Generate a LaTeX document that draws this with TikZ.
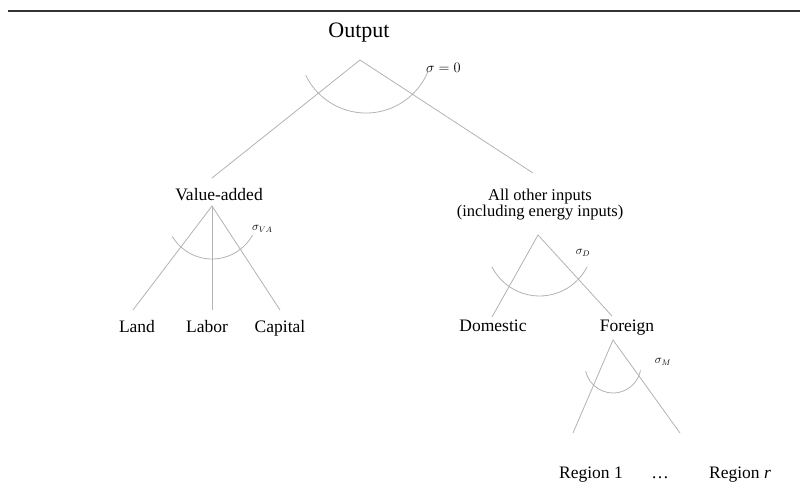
\documentclass[tikz,border=0pt]{standalone}
\usepackage{fontspec}
\setmainfont{Liberation Serif}
\begin{document}
\begin{tikzpicture}[x=1pt,y=-1pt]
\tikzset{
  lbl/.style={font=\fontsize{17.5}{20}\selectfont, inner sep=0pt, anchor=base},
  edge/.style={draw=gray!60, line width=0.8pt},
  elas/.style={draw=gray!60, line width=0.8pt},
  sig/.style={font=\fontsize{12}{14}\selectfont, inner sep=0pt},
  rule/.style={draw=black!80, line width=2.5pt}
}
\useasboundingbox (0,0) rectangle (800,502);
% top rule
\coordinate (r1) at (8,11);
\coordinate (r2) at (800,11);
\draw[rule] (r1) -- (r2);

% labels
\node[lbl, font=\fontsize{22}{24}\selectfont] (out) at (359,38) {Output};
\node[lbl] (va) at (219,201) {Value-added};
\node[lbl, font=\fontsize{16.5}{18}\selectfont] (ao1) at (540,201) {All other inputs};
\node[lbl, font=\fontsize{16.5}{18}\selectfont] (ao2) at (540,217) {(including energy inputs)};
\node[lbl] (land) at (137,333) {Land};
\node[lbl] (labor) at (207,333) {Labor};
\node[lbl] (cap) at (280,333) {Capital};
\node[lbl] (dom) at (493,331) {Domestic};
\node[lbl] (for) at (627,331) {Foreign};
\node[lbl] (reg1) at (591,478) {Region 1};
\node[lbl] (dots) at (660,478) {\dots};
\node[lbl] (regr) at (740,478) {Region \textit{r}};

% tree points
\coordinate (oA) at (360,60);
\coordinate (oL) at (212,178);
\coordinate (oR) at (533,173);
\coordinate (vA) at (212,206);
\coordinate (vL) at (133,310);
\coordinate (vM) at (212,310);
\coordinate (vR) at (280,310);
\coordinate (aA) at (538,235);
\coordinate (aL) at (492,317);
\coordinate (aR) at (612,316);
\coordinate (fA) at (613,340);
\coordinate (fL) at (573,433);
\coordinate (fR) at (680,433);

\draw[edge] (oL) -- (oA) -- (oR);
\draw[edge] (vL) -- (vA) -- (vR);
\draw[edge] (vA) -- (vM);
\draw[edge] (aL) -- (aA) -- (aR);
\draw[edge] (fL) -- (fA) -- (fR);

% elasticity arcs
\coordinate (oc) at (366,46);
\draw[elas] ([shift={(154.2:67)}]oc) arc[start angle=154.2, end angle=23, radius=67];
\coordinate (vc) at (212,212.7);
\draw[elas] ([shift={(149:46.3)}]vc) arc[start angle=149, end angle=29, radius=46.3];
\coordinate (ac) at (539.5,242.6);
\draw[elas] ([shift={(153:53.4)}]ac) arc[start angle=153, end angle=27, radius=53.4];
\coordinate (fc) at (613,365);
\draw[elas] ([shift={(167.5:28)}]fc) arc[start angle=167.5, end angle=11, radius=28];

% sigma labels
\node[sig, font=\fontsize{14}{16}\selectfont, anchor=west] (s0) at (426,68) {$\sigma = 0$};
\node[sig, anchor=west] (sva) at (252,229) {$\sigma_{VA}$};
\node[sig] (sd) at (583,253) {$\sigma_{D}$};
\node[sig] (sm) at (663,362) {$\sigma_{M}$};
\end{tikzpicture}
\end{document}
